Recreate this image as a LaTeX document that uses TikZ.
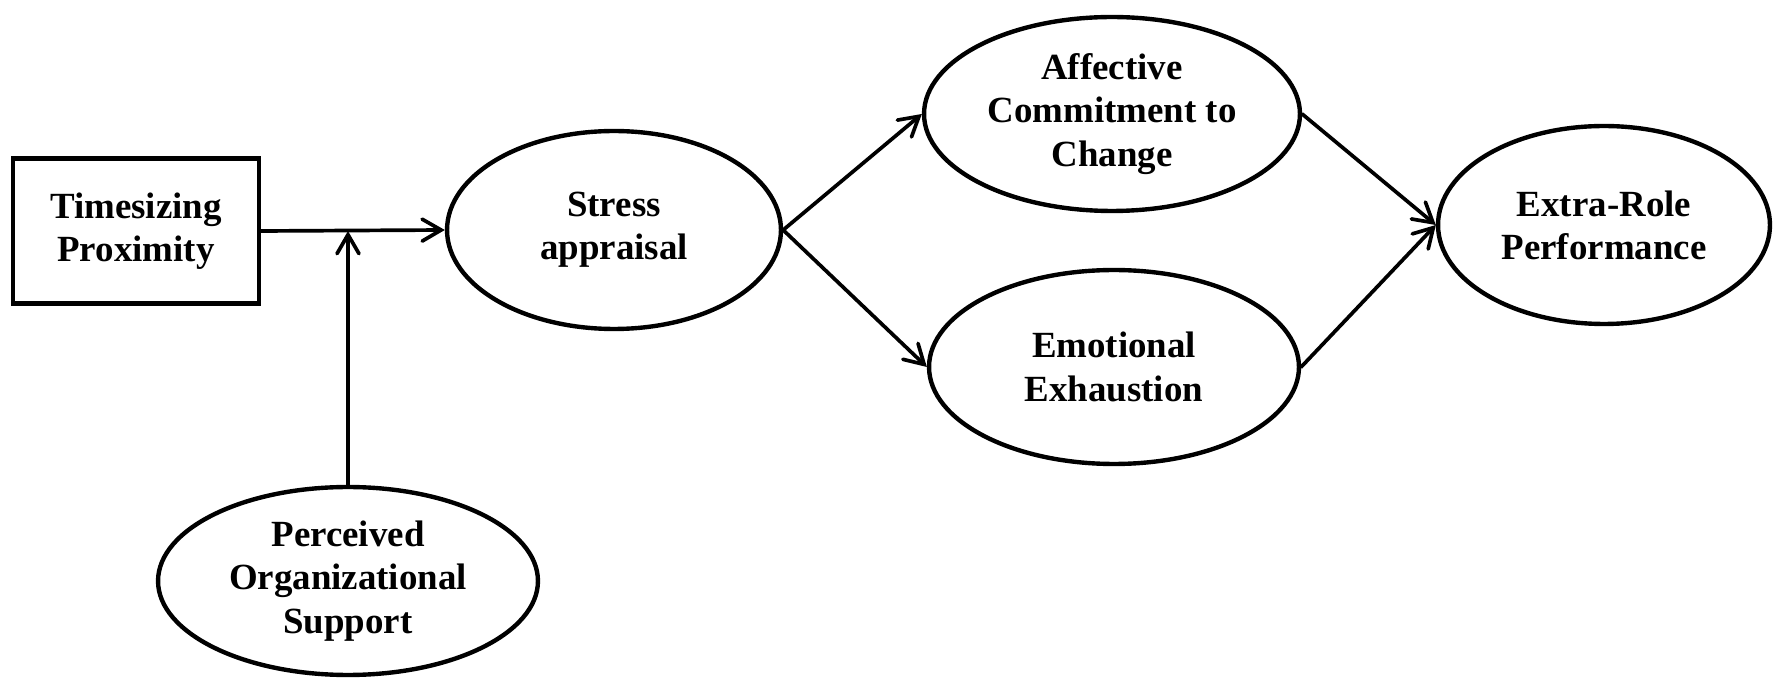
\documentclass[tikz,border=0pt]{standalone}
\usepackage{fontspec}
\setmainfont{Liberation Serif}
\usetikzlibrary{arrows.meta,calc,positioning,shapes.geometric}
\tikzset{
    mod box/.style={
        draw,
        line width=2.6pt,
        minimum width=4.92cm,
        minimum height=2.9cm,
        align=center,
        font=\fontsize{21}{24.6}\selectfont\bfseries
    },
    mod latent/.style={
        draw,
        ellipse,
        line width=2.5pt,
        inner sep=0pt,
        align=center,
        font=\fontsize{21}{24.6}\selectfont\bfseries
    },
    mod path/.style={-{Straight Barb[length=0.38cm,width=0.44cm,line cap=round]}, line width=2.1pt, line cap=round}
}
\begin{document}
\begin{tikzpicture}[x=0.02cm,y=-0.02cm]
    \useasboundingbox (0,0) rectangle (1783,678);

    \node[mod box] (tp) at (136,231) {Timesizing\\Proximity};
    \node[mod latent, minimum width=6.68cm, minimum height=3.96cm] (sa) at (614,230) {Stress\\appraisal};
    \node[mod latent, minimum width=7.52cm, minimum height=3.88cm] (acc) at (1112,114) {Affective\\Commitment to\\Change};
    \node[mod latent, minimum width=7.4cm, minimum height=3.88cm] (ee) at (1114,367) {Emotional\\Exhaustion};
    \node[mod latent, minimum width=6.64cm, minimum height=3.96cm] (erp) at (1604,225) {Extra-Role\\Performance};
    \node[mod latent, minimum width=7.6cm, minimum height=3.76cm] (pos) at (348,581) {Perceived\\Organizational\\Support};

    \coordinate (mod) at (pos.north |- tp.east);

    \draw[mod path] (tp.east) -- (sa.west);
    \draw[mod path] (pos.north) -- (mod);
    \draw[mod path] (sa.east) -- (acc.west);
    \draw[mod path] (sa.east) -- (ee.west);
    \draw[mod path] (acc.east) -- (erp.west);
    \draw[mod path] (ee.east) -- (erp.west);
\end{tikzpicture}
\end{document}
